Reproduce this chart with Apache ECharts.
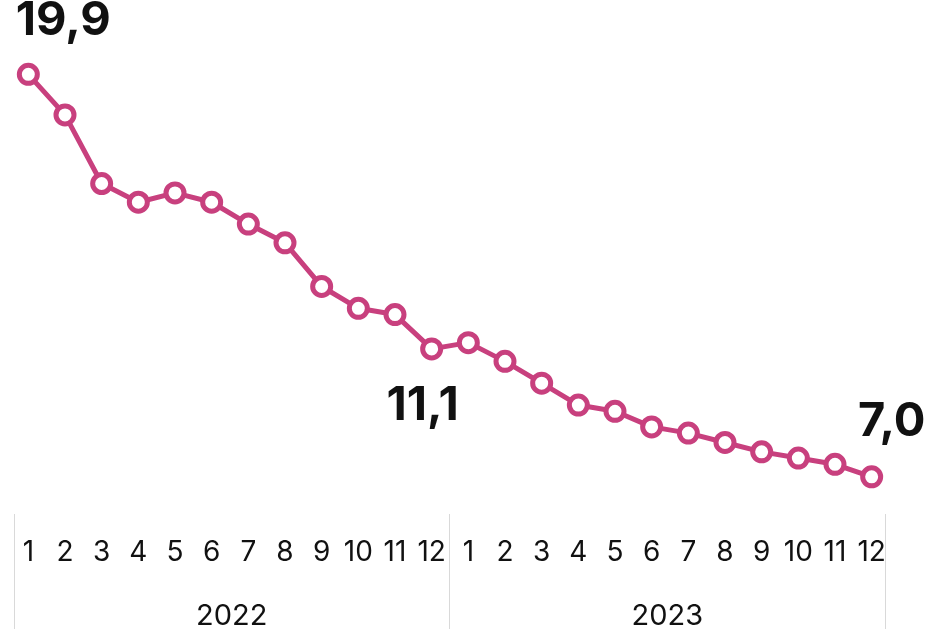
<!DOCTYPE html>
<html lang="ru">
<head>
    <meta charset="utf-8">
    <script src="https://cdn.jsdelivr.net/npm/echarts@6/dist/echarts.min.js"></script>
    <style>
        html, body { margin: 0; padding: 0; background: #fff; }
        #main { width: 933px; height: 631px; }
    </style>
</head>
<body>
<div id="main"></div>
<script>
    var months = ['1', '2', '3', '4', '5', '6', '7', '8', '9', '10', '11', '12',
                  '1', '2', '3', '4', '5', '6', '7', '8', '9', '10', '11', '12'];
    var years = ['2022', '2023'];
    var values = [19.9, 18.6, 16.4, 15.8, 16.1, 15.8, 15.1, 14.5, 13.1, 12.4, 12.2, 11.1,
                  11.3, 10.7, 10.0, 9.3, 9.1, 8.6, 8.4, 8.1, 7.8, 7.6, 7.4, 7.0];
    // which points get a big label and where
    var labelled = {0: ['top', 18, [35, 0]], 11: ['bottom', 22, [-9, 0]], 23: ['top', 20, [20, 0]]};

    var pink = '#c8407e';
    var font = 'Inter, "Noto Sans", sans-serif';

    var seriesData = values.map(function (v, i) {
        var item = {value: v};
        if (labelled[i]) {
            item.label = {
                show: true,
                position: labelled[i][0],
                distance: labelled[i][1],
                offset: labelled[i][2],
                fontFamily: font,
                fontWeight: 'bold',
                fontSize: 47,
                color: '#111',
                formatter: function (p) {
                    return p.value.toFixed(1).replace('.', ',');
                }
            };
        }
        return item;
    });

    var chart = echarts.init(document.getElementById('main'));
    chart.setOption({
        animation: false,
        backgroundColor: '#fff',
        grid: [
            {left: 10, right: 43, top: 40, bottom: 123},
            {left: 14, right: 48, top: 40, bottom: 115}
        ],
        xAxis: [{
            type: 'category',
            data: months,
            gridIndex: 0,
            boundaryGap: true,
            axisLine: {show: false},
            axisTick: {show: false},
            axisLabel: {
                interval: 0,
                margin: 31,
                fontFamily: font,
                fontSize: 28,
                color: '#111'
            }
        }, {
            type: 'category',
            data: years,
            gridIndex: 1,
            axisLine: {show: false},
            axisTick: {
                show: true,
                length: 115,
                lineStyle: {color: '#d9d9d9', width: 1}
            },
            axisLabel: {
                margin: 88,
                fontFamily: font,
                fontSize: 29,
                color: '#111'
            }
        }],
        yAxis: [{
            type: 'value',
            gridIndex: 0,
            min: 6,
            max: 21,
            show: false
        }, {
            type: 'value',
            gridIndex: 1,
            show: false
        }],
        series: [{
            type: 'line',
            xAxisIndex: 0,
            yAxisIndex: 0,
            data: seriesData,
            symbol: 'circle',
            symbolSize: 18,
            lineStyle: {color: pink, width: 5},
            itemStyle: {color: '#fff', borderColor: pink, borderWidth: 5},
            emphasis: {disabled: true},
            z: 3
        }]
    });
</script>
</body>
</html>
